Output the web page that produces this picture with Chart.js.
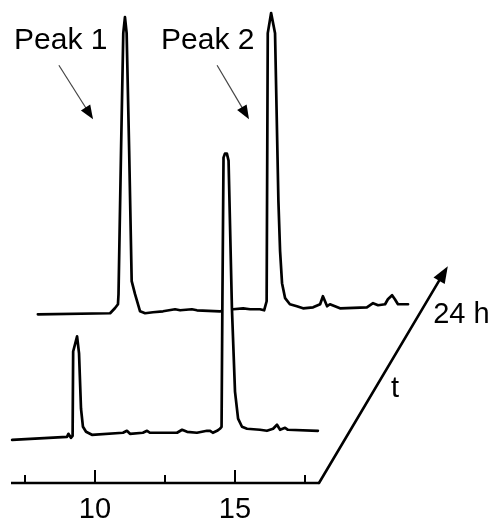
<!DOCTYPE html>
<html><head><meta charset="utf-8">
<script src="https://cdn.jsdelivr.net/npm/chart.js@4.4.0/dist/chart.umd.min.js"></script>
<style>html,body{margin:0;padding:0;background:#fff}canvas{display:block}</style>
</head><body>
<canvas id="c" width="491" height="522"></canvas>
<script>
// ---- data (retention time in min, detector signal in arbitrary units) ----
const time0h = [7.04, 9.00, 9.05, 9.14, 9.20, 9.22, 9.36, 9.43, 9.50, 9.57, 9.68, 9.89, 11.00, 11.14, 11.25, 11.71, 11.86, 11.96, 12.93, 13.11, 13.29, 13.64, 14.00, 14.11, 14.21, 14.36, 14.46, 14.52, 14.55, 14.59, 14.64, 14.71, 14.77, 14.89, 15.00, 15.11, 15.25, 15.43, 15.89, 16.14, 16.36, 16.50, 16.61, 16.79, 16.89, 17.96];
const signal0h = [8.94, 9.56, 10.19, 9.36, 9.77, 27.23, 30.35, 26.82, 15.38, 11.64, 10.60, 9.98, 10.40, 10.81, 10.19, 10.40, 10.81, 10.40, 10.40, 11.02, 10.60, 10.40, 10.81, 10.81, 10.40, 10.81, 11.23, 11.64, 37.63, 67.36, 68.19, 68.19, 66.74, 36.17, 18.92, 13.31, 11.64, 11.23, 11.02, 10.81, 11.23, 12.06, 11.02, 11.43, 11.02, 10.81];
const time24h = [6.28, 8.86, 9.03, 9.14, 9.16, 9.25, 9.33, 9.39, 9.45, 9.54, 9.63, 9.75, 9.93, 10.11, 10.39, 10.75, 11.18, 11.36, 11.78, 11.96, 12.78, 13.25, 13.61, 13.86, 14.21, 14.36, 14.45, 14.49, 14.61, 14.75, 14.87, 14.93, 15.00, 15.11, 15.28, 15.53, 15.75, 16.11, 16.36, 16.46, 16.61, 16.71, 16.89, 17.07, 18.03, 18.25, 18.43, 18.68, 18.78, 18.93, 19.03, 19.14, 19.50];
const signal24h = [9.98, 10.19, 11.22, 12.05, 14.14, 43.86, 68.19, 71.52, 68.19, 43.86, 16.84, 14.14, 10.60, 10.19, 10.40, 10.60, 11.02, 10.81, 11.02, 10.81, 10.60, 11.02, 11.22, 11.02, 11.02, 10.81, 12.68, 68.19, 72.35, 68.19, 33.47, 23.07, 16.42, 13.31, 12.06, 11.64, 11.22, 11.43, 12.06, 13.72, 11.64, 12.06, 11.64, 11.22, 11.43, 12.27, 11.85, 12.06, 13.10, 13.93, 13.10, 12.06, 12.06];
const tickValues = [7.5, 10, 12.5, 15, 17.5];
const tickLabels = ['', '10', '', '15', ''];
const majorTicks = [10, 15];
const AXIS_START = 7, AXIS_END = 18;          // drawn extent of the time axis
const X_MIN = 7, X_MAX = 22, Y_MIN = 0, Y_MAX = 100;
const SHIFT_T = 1.68, SHIFT_Y = 24.95;       // waterfall offset of the 24 h trace
const peakLabels = ['Peak 1', 'Peak 2'];
const peakLabelPos = [[7.11, 89.8], [12.36, 89.8]];
const peakArrows = [[[8.71, 86.5], [9.93, 75.3]], [[14.36, 86.5], [15.50, 75.3]]];
const timeArrow = [[18, 0], [22.6, 44.9]];
const timeLabels = [['t', 20.57, 17.9], ['24 h', 22.08, 33.1]];

const PEAK_FONT = '30px "Liberation Sans", Arial, sans-serif';
const FONT = '29px "Liberation Sans", Arial, sans-serif';

function arrowHead(ctx, x1, y1, x2, y2, len, half) {
  const a = Math.atan2(y2 - y1, x2 - x1);
  ctx.beginPath();
  ctx.moveTo(x2, y2);
  ctx.lineTo(x2 - len * Math.cos(a) + half * Math.sin(a), y2 - len * Math.sin(a) - half * Math.cos(a));
  ctx.lineTo(x2 - len * Math.cos(a) - half * Math.sin(a), y2 - len * Math.sin(a) + half * Math.cos(a));
  ctx.closePath();
  ctx.fill();
}

const decor = {
  id: 'decor',
  afterDraw(chart) {
    const ctx = chart.ctx, xs = chart.scales.x, ys = chart.scales.y;
    const P = (t, v) => [xs.getPixelForValue(t), ys.getPixelForValue(v)];
    ctx.save();
    ctx.strokeStyle = '#000'; ctx.fillStyle = '#000';
    const yb = ys.getPixelForValue(Y_MIN);
    // axis line
    ctx.lineWidth = 2.6; ctx.lineCap = 'butt';
    ctx.beginPath(); ctx.moveTo(xs.getPixelForValue(AXIS_START), yb); ctx.lineTo(xs.getPixelForValue(AXIS_END), yb); ctx.stroke();
    // inward tick marks
    ctx.lineWidth = 2;
    tickValues.forEach(v => {
      const x = xs.getPixelForValue(v);
      const len = majorTicks.includes(v) ? 13 : 8;
      ctx.beginPath(); ctx.moveTo(x, yb); ctx.lineTo(x, yb - len); ctx.stroke();
    });
    // time arrow
    const [a1, a2] = [P(...timeArrow[0]), P(...timeArrow[1])];
    ctx.lineWidth = 2.6; ctx.lineCap = 'round';
    const ang = Math.atan2(a2[1] - a1[1], a2[0] - a1[0]);
    ctx.beginPath(); ctx.moveTo(a1[0], a1[1]);
    ctx.lineTo(a2[0] - 12 * Math.cos(ang), a2[1] - 12 * Math.sin(ang)); ctx.stroke();
    arrowHead(ctx, a1[0], a1[1], a2[0], a2[1], 17, 6.5);
    // peak pointers
    peakArrows.forEach(([s, e]) => {
      const p1 = P(...s), p2 = P(...e);
      const an = Math.atan2(p2[1] - p1[1], p2[0] - p1[0]);
      ctx.strokeStyle = '#444'; ctx.lineWidth = 1.2; ctx.lineCap = 'butt';
      ctx.beginPath(); ctx.moveTo(p1[0], p1[1]);
      ctx.lineTo(p2[0] - 8 * Math.cos(an), p2[1] - 8 * Math.sin(an)); ctx.stroke();
      ctx.fillStyle = '#000';
      arrowHead(ctx, p1[0], p1[1], p2[0], p2[1], 14, 5.5);
    });
    // texts
    ctx.textAlign = 'left'; ctx.textBaseline = 'alphabetic'; ctx.fillStyle = '#000';
    ctx.font = PEAK_FONT;
    peakLabels.forEach((s, i) => { const p = P(...peakLabelPos[i]); ctx.fillText(s, p[0], p[1]); });
    ctx.font = FONT;
    timeLabels.forEach(([s, t, v]) => { const p = P(t, v); ctx.fillText(s, p[0], p[1]); });
    ctx.restore();
  }
};

new Chart(document.getElementById('c'), {
  type: 'line',
  data: {
    datasets: [
      { label: '0 h', data: time0h.map((t, i) => ({x: t, y: signal0h[i]})), xAxisID: 'x', yAxisID: 'y',
        borderColor: '#000', borderWidth: 2.7, backgroundColor: '#fff', fill: 'start',
        pointRadius: 0, tension: 0, clip: false, borderJoinStyle: 'round', borderCapStyle: 'round' },
      { label: '24 h', data: time24h.map((t, i) => ({x: t, y: signal24h[i]})), xAxisID: 'x2', yAxisID: 'y2',
        borderColor: '#000', borderWidth: 2.7, fill: false,
        pointRadius: 0, tension: 0, clip: false, borderJoinStyle: 'round', borderCapStyle: 'round' }
    ]
  },
  options: {
    responsive: false, animation: false, devicePixelRatio: 1,
    layout: { padding: { left: 11, right: 60, top: 0, bottom: -14 } },
    plugins: { legend: { display: false }, tooltip: { enabled: false } },
    scales: {
      x: { type: 'linear', position: 'bottom', min: X_MIN, max: X_MAX,
           grid: { display: false, drawTicks: false, tickLength: 0 },
           border: { display: false },
           afterBuildTicks: s => { s.ticks = tickValues.map(v => ({ value: v })); },
           ticks: { autoSkip: false, maxRotation: 0, padding: 12, color: '#000',
                    font: { family: '"Liberation Sans", Arial, sans-serif', size: 29, lineHeight: 1 },
                    callback: v => tickLabels[tickValues.indexOf(v)] ?? '' } },
      y: { type: 'linear', min: Y_MIN, max: Y_MAX, display: false },
      x2: { type: 'linear', axis: 'x', min: X_MIN - SHIFT_T, max: X_MAX - SHIFT_T, display: false },
      y2: { type: 'linear', axis: 'y', min: Y_MIN - SHIFT_Y, max: Y_MAX - SHIFT_Y, display: false }
    }
  },
  plugins: [decor]
});
</script>
</body></html>
